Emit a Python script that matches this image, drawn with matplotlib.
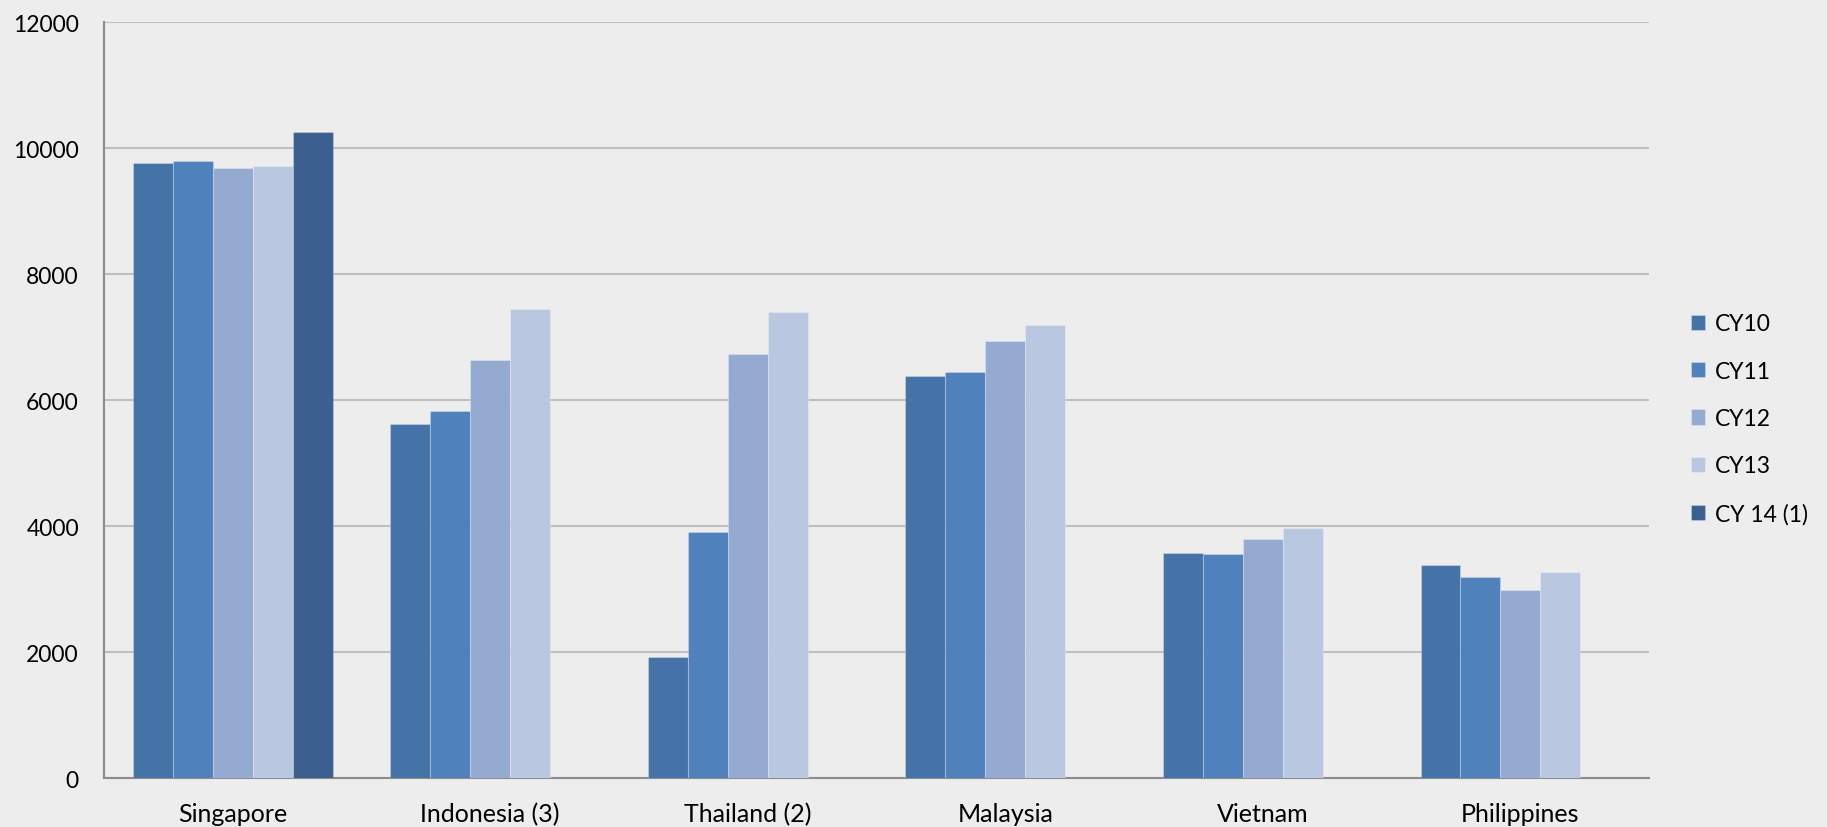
import numpy as np
import matplotlib.pyplot as plt

plt.rcParams['font.family'] = ['Lato', 'DejaVu Sans']

# categories and yearly values
countries = ["Singapore", "Indonesia (3)", "Thailand (2)", "Malaysia", "Vietnam", "Philippines"]
cy10 = [9770, 5620, 1925, 6380, 3580, 3390]
cy11 = [9795, 5825, 3910, 6450, 3560, 3190]
cy12 = [9685, 6635, 6735, 6935, 3800, 2990]
cy13 = [9715, 7445, 7400, 7195, 3980, 3280]
cy14 = [10260, 0, 0, 0, 0, 0]

labels = ["CY10", "CY11", "CY12", "CY13", "CY 14 (1)"]
colors = ["#4573A7", "#4F81BD", "#95AAD1", "#BAC7E0", "#3B5F8F"]
series = [cy10, cy11, cy12, cy13, cy14]

bg = "#EDEDED"
fig = plt.figure(figsize=(18.27, 8.28), dpi=100, facecolor=bg)
ax = fig.add_axes([0.0569, 0.0588, 0.9026 - 0.0569, 0.9719 - 0.0588])
ax.set_facecolor(bg)

x = np.arange(len(countries))
w = 0.155
handles = []
for i, (vals, lab, col) in enumerate(zip(series, labels, colors)):
    vals = np.array(vals, dtype=float)
    mask = vals > 0
    b = ax.bar(x[mask] + (i - 2) * w, vals[mask], width=w, color=col,
               edgecolor=(1, 1, 1, 0.25), linewidth=0.8, zorder=3, label=lab)
    handles.append(b)

ax.set_xlim(-0.5, len(countries) - 0.5)
ax.set_ylim(0, 12000)
ax.set_yticks(np.arange(0, 12001, 2000))
ax.set_xticks(x)
ax.set_xticklabels(countries, fontsize=18)
ax.tick_params(axis='y', labelsize=16.5, length=0, pad=18)
ax.tick_params(axis='x', length=0, pad=17)
ax.grid(axis='y', color="#BFBFBF", linewidth=1.5, zorder=0)

for s in ["top", "right"]:
    ax.spines[s].set_visible(False)
ax.spines["left"].set_color("#8C8C8C")
ax.spines["left"].set_linewidth(1.5)
ax.spines["bottom"].set_color("#8C8C8C")
ax.spines["bottom"].set_linewidth(1.5)

fig.legend(handles=handles, labels=labels, loc="center left",
           bbox_to_anchor=(0.914, 0.493), frameon=False, fontsize=16.5,
           handlelength=0.65, handleheight=0.65, handletextpad=0.4,
           labelspacing=1.15)

fig.savefig("out.png", dpi=100, facecolor=bg)
